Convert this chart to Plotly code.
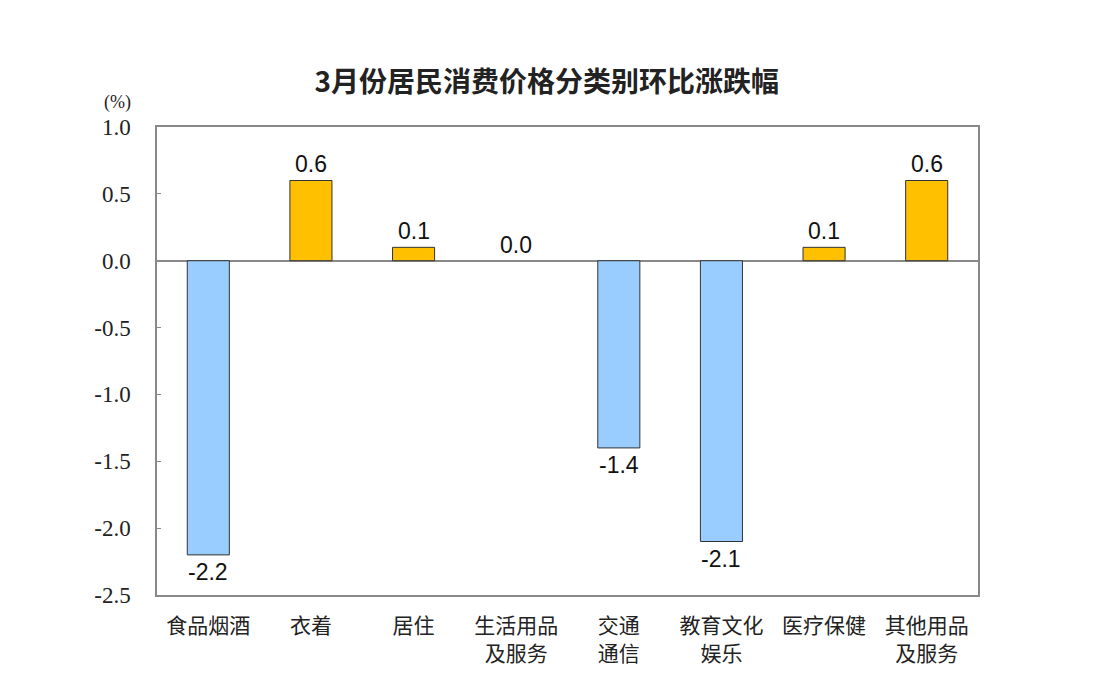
import plotly.graph_objects as go

categories = ["食品烟酒", "衣着", "居住", "生活用品<br>及服务", "交通<br>通信", "教育文化<br>娱乐", "医疗保健", "其他用品<br>及服务"]
values = [-2.2, 0.6, 0.1, 0.0, -1.4, -2.1, 0.1, 0.6]
tick_vals = [1.0, 0.5, 0.0, -0.5, -1.0, -1.5, -2.0, -2.5]
tick_text = ["1.0", "0.5", "0.0", "-0.5", "-1.0", "-1.5", "-2.0", "-2.5"]

SERIF = "Times New Roman, Liberation Serif, DejaVu Serif, serif"

colors = ["#99CCFF" if v < 0 else "#FFC000" for v in values]
line_widths = [0 if v == 0 else 1 for v in values]
x = list(range(len(categories)))

fig = go.Figure()
fig.add_trace(go.Bar(
    x=x, y=values, width=0.41,
    marker=dict(color=colors, line=dict(color="#333333", width=line_widths)),
    hoverinfo="skip",
))

for xi, v in zip(x, values):
    fig.add_annotation(
        x=xi, y=v, text=f"{v:.1f}", showarrow=False,
        yanchor="top" if v < 0 else "bottom",
        yshift=-2 if v < 0 else 1,
        font=dict(family="Arial, Liberation Sans, sans-serif", size=23, color="#111111"),
    )

fig.add_annotation(
    xref="paper", yref="paper", x=-0.0487, y=1.053, text="(%)",
    showarrow=False, xanchor="center", yanchor="middle",
    font=dict(family=SERIF, size=18, color="#222222"),
)

fig.update_layout(
    width=1100, height=678,
    margin=dict(l=157, r=122, t=127, b=83),
    paper_bgcolor="white", plot_bgcolor="white",
    showlegend=False,
    title=dict(
        text="3月份居民消费价格分类别环比涨跌幅",
        x=0.497, xanchor="center", y=0.879, yanchor="middle",
        font=dict(family="Noto Sans CJK SC", size=28, color="#222222", weight="bold"),
    ),
)
fig.update_xaxes(
    tickmode="array", tickvals=x, ticktext=categories,
    range=[-0.5, len(categories) - 0.5],
    showline=True, linecolor="#888888", linewidth=2, mirror=True,
    showgrid=False, zeroline=False, ticks="", ticklabelstandoff=11,
    tickfont=dict(family="Noto Sans CJK SC", size=21, color="#222222"),
)
fig.update_yaxes(
    range=[-2.5, 1.0], tickmode="array", tickvals=tick_vals, ticktext=tick_text,
    showline=True, linecolor="#888888", linewidth=1.5, mirror=True,
    showgrid=False, zeroline=True, zerolinecolor="#888888", zerolinewidth=1.5,
    ticks="inside", ticklen=4, tickcolor="#888888", ticklabelstandoff=20,
    tickfont=dict(family=SERIF, size=23, color="#222222"),
)

fig.write_html("out.html")
